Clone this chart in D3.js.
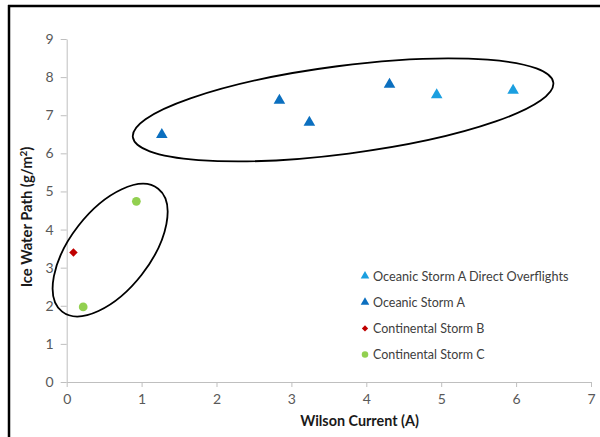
<!DOCTYPE html>
<html lang="en">
<head>
<meta charset="UTF-8">
<title>Ice Water Path vs Wilson Current</title>
<script src="https://cdnjs.cloudflare.com/ajax/libs/d3/7.8.5/d3.min.js"></script>
<style>
  body { margin: 0; background: #fff; }
  svg { display: block; font-family: Lato, "Liberation Sans", sans-serif; }
</style>
</head>
<body>
<svg id="chart" width="600" height="437"></svg>
<script>
// series data (Wilson current A, ice water path g/m2)
const overflights = [[4.94, 7.53], [5.96, 7.65]];
const oceanicA = [[1.27, 6.49], [2.84, 7.39], [3.24, 6.81], [4.31, 7.81]];
const continentalB = [[0.09, 3.40]];
const continentalC = [[0.22, 1.97], [0.93, 4.74]];

const xTicks = [0, 1, 2, 3, 4, 5, 6, 7];
const yTicks = [0, 1, 2, 3, 4, 5, 6, 7, 8, 9];

const series = [
  { name: "Oceanic Storm A Direct Overflights", data: overflights, shape: d3.symbolTriangle, color: "#1b9fe0", size: 58, rot: 0 },
  { name: "Oceanic Storm A", data: oceanicA, shape: d3.symbolTriangle, color: "#0b6fbf", size: 58, rot: 0 },
  { name: "Continental Storm B", data: continentalB, shape: d3.symbolSquare, color: "#c00000", size: 36, rot: 45 },
  { name: "Continental Storm C", data: continentalC, shape: d3.symbolCircle, color: "#92d050", size: 60, rot: 0 }
];

// hand-drawn grouping ellipses: centre in data units, radii in px, angle in degrees
const groups = [
  { cx: 3.69, cy: 7.14, rx: 212, ry: 44, angle: -7.4 },
  { cx: 0.58, cy: 3.46, rx: 78, ry: 40, angle: -52 }
];

const svg = d3.select("#chart");
const margin = { left: 66.7, right: 9, top: 39, bottom: 55 };
const W = 600, H = 437;

const x = d3.scaleLinear().domain([0, 7]).range([margin.left, W - margin.right]);
const y = d3.scaleLinear().domain([0, 9]).range([H - margin.bottom, margin.top]);

// scale a text's font so it spans about the given width
function fit(sel, width) {
  const fs = +sel.attr("font-size");
  const w = sel.node().getBBox().width;
  const k = width / w;
  sel.attr("font-size", fs * k);
  sel.selectAll("tspan[font-size]").each(function () {
    d3.select(this).attr("font-size", +d3.select(this).attr("font-size") * k);
  });
}

// frame (top and left edges only visible)
svg.append("line").attr("x1", 8).attr("x2", 600).attr("y1", 6).attr("y2", 6)
  .attr("stroke", "#000").attr("stroke-width", 2.5);
svg.append("line").attr("x1", 9).attr("x2", 9).attr("y1", 5).attr("y2", 437)
  .attr("stroke", "#000").attr("stroke-width", 2.5);

const axisColor = "#bfbfbf";
const labelColor = "#595959";

const gx = svg.append("g").attr("transform", `translate(0,${y(0)})`)
  .call(d3.axisBottom(x).tickValues(xTicks).tickFormat(d3.format("d"))
    .tickSize(5).tickPadding(7).tickSizeOuter(0));
const gy = svg.append("g").attr("transform", `translate(${x(0)},0)`)
  .call(d3.axisLeft(y).tickValues(yTicks).tickFormat(d3.format("d"))
    .tickSize(6).tickPadding(7).tickSizeOuter(0));

[gx, gy].forEach(g => {
  g.select(".domain").attr("stroke", axisColor);
  g.selectAll(".tick line").attr("stroke", axisColor);
  g.selectAll(".tick text").attr("fill", labelColor).attr("font-size", 14)
    .attr("font-family", "Lato, sans-serif");
});

// axis titles
const xt = svg.append("text").attr("x", 359.5).attr("y", 426)
  .attr("text-anchor", "middle").attr("font-weight", "bold").attr("font-size", 14)
  .attr("fill", "#1a1a1a").text("Wilson Current (A)");
fit(xt, 119);

const yt = svg.append("text").attr("transform", "translate(32,217) rotate(-90)")
  .attr("text-anchor", "middle").attr("font-weight", "bold").attr("font-size", 14)
  .attr("fill", "#1a1a1a");
yt.append("tspan").text("Ice Water Path (g/m");
yt.append("tspan").attr("font-size", 9.5).attr("dy", -5).text("2");
yt.append("tspan").attr("dy", 5).text(")");
fit(yt, 141);

// ellipses
svg.selectAll("ellipse.group").data(groups).join("ellipse")
  .attr("class", "group")
  .attr("transform", d => `translate(${x(d.cx)},${y(d.cy)}) rotate(${d.angle})`)
  .attr("rx", d => d.rx).attr("ry", d => d.ry)
  .attr("fill", "none").attr("stroke", "#000").attr("stroke-width", 1.8);

// points
series.forEach(s => {
  svg.append("g").selectAll("path").data(s.data).join("path")
    .attr("transform", d => `translate(${x(d[0])},${y(d[1])}) rotate(${s.rot})`)
    .attr("d", d3.symbol().type(s.shape).size(s.size))
    .attr("fill", s.color);
});

// legend
const legend = svg.append("g").attr("transform", "translate(365,276)");
series.forEach((s, i) => {
  const row = legend.append("g").attr("transform", `translate(0,${i * 26.2})`);
  row.append("path").attr("transform", `rotate(${s.rot})`)
    .attr("d", d3.symbol().type(s.shape).size(s.size * 0.55)).attr("fill", s.color);
  const t = row.append("text").attr("x", 8).attr("y", 4.5).attr("font-size", 12.5)
    .attr("fill", "#404040").text(s.name);
  if (i === 0) fit(t, 195.6);
});
</script>
</body>
</html>
